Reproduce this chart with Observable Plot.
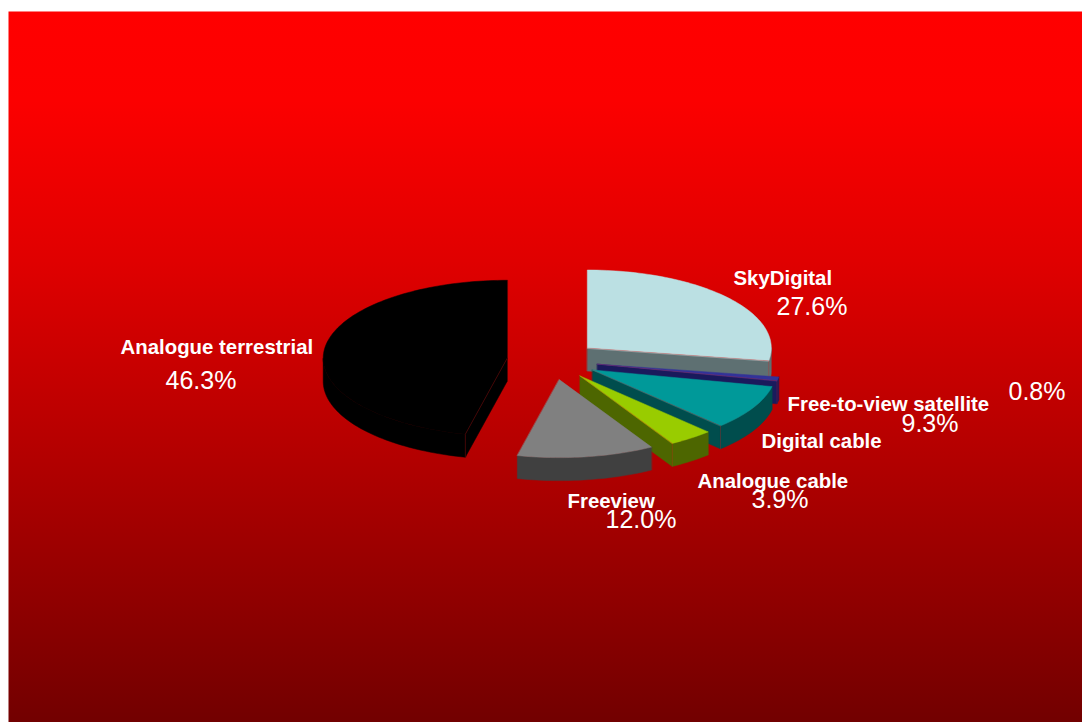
<!DOCTYPE html>
<html>
<head>
<meta charset="utf-8">
<style>
  html, body { margin: 0; padding: 0; background: #fff; }
  svg { display: block; }
</style>
<script src="https://cdn.jsdelivr.net/npm/d3@7"></script>
<script src="https://cdn.jsdelivr.net/npm/@observablehq/plot@0.6"></script>
</head>
<body>
<div id="chart"></div>
<script>
// Share of households by television platform, in clockwise order from 12 o'clock.
const platforms = ["SkyDigital", "Free-to-view satellite", "Digital cable", "Analogue cable", "Freeview", "Analogue terrestrial"];
const shares = [27.6, 0.8, 9.3, 3.9, 12.0, 46.3];
const topColors = ["#BBE0E3", "#333399", "#009999", "#99CC00", "#808080", "#000000"];
const sideColors = ["#5E7072", "#1A1A5C", "#004D4D", "#4D6600", "#404040", "#000000"];

// Label anchors, in page pixels: name x, name baseline, percent x, percent baseline.
const labelAnchors = [
  [733, 284, 776, 314],
  [787, 410, 1008, 399],
  [761, 447, 901, 431],
  [697, 487, 751, 507],
  [567, 507, 605, 527],
  [120, 353, 165, 388]
];

// Background ramp: page y of each stop and its red level.
const rampY = [11, 100, 260, 460, 722];
const rampRed = [255, 252, 224, 178, 114];

// Tilted pie, in page pixels; the scales below work in units of the ellipse radii.
const W = 1082, H = 722, left = 8, top_ = 11;
const cx = 552, cy = 360, rx = 184, ry = 78, depth = 23 / ry, explode = 45.6 / rx;

const px = (x) => (x - cx) / rx;
const py = (y) => (cy - y) / ry;
const deg = Math.PI / 180;

// Ellipse point for a clockwise angle measured from 12 o'clock.
const rim = (c, a) => ({x: c.x + Math.sin(a), y: c.y + Math.cos(a)});
const arc = (c, a0, a1) => {
  const n = Math.max(1, Math.ceil(Math.abs(a1 - a0) / (1.5 * deg)));
  return d3.range(n + 1).map((i) => rim(c, a0 + ((a1 - a0) * i) / n));
};

const total = d3.sum(shares);
let running = 0;
const slices = platforms.map((name, i) => {
  const start = (running / total) * 2 * Math.PI;
  running += shares[i];
  const end = (running / total) * 2 * Math.PI;
  const mid = (start + end) / 2;
  const apex = {x: explode * Math.sin(mid), y: explode * Math.cos(mid)};
  return {name, share: shares[i], start, end, apex, top: topColors[i], side: sideColors[i], anchor: labelAnchors[i]};
});

const lowered = (p) => ({x: p.x, y: p.y - depth});

// Extruded wall between a run of top-face points and the same run lowered by the depth.
const wall = (pts) => [...pts, ...pts.slice().reverse().map(lowered)];

function sliceMarksFor(s) {
  const {apex, start, end} = s;
  const walls = [];
  const seams = [];
  // Radial walls that face the viewer, with the hairline along their upper and outer edges.
  for (const [angle, visible] of [[start, Math.sin(start) < -1e-6], [end, Math.sin(end) > 1e-6]]) {
    if (!visible) continue;
    const outer = rim(apex, angle);
    walls.push(wall([apex, outer]));
    seams.push([apex, outer, lowered(outer)]);
  }
  // Outer wall on the near half of the ellipse.
  const a0 = Math.max(start, Math.PI / 2), a1 = Math.min(end, 1.5 * Math.PI);
  if (a1 > a0) walls.push(wall(arc(apex, a0, a1)));

  const closed = (pts, fill) => Plot.line(pts, {
    x: "x", y: "y", curve: "linear-closed", fill, stroke: fill, strokeWidth: 0.5
  });
  return [
    ...walls.map((pts) => closed(pts, s.side)),
    closed([apex, ...arc(apex, start, end)], s.top),
    ...seams.map((pts) => Plot.line(pts, {x: "x", y: "y", stroke: "#ff2020", strokeOpacity: 0.3, strokeWidth: 0.75}))
  ];
}

// Painted back to front: the large slice, then clockwise from 12 o'clock.
const paintOrder = [5, 0, 1, 2, 3, 4];
const sliceMarks = paintOrder.flatMap((i) => sliceMarksFor(slices[i]));

// Vertical background gradient used by the frame.
const gradient = () => {
  const defs = d3.create("svg:defs");
  const g = defs.append("linearGradient").attr("id", "bg").attr("x1", 0).attr("y1", 0).attr("x2", 0).attr("y2", 1);
  rampY.forEach((y, i) => {
    g.append("stop")
      .attr("offset", (y - top_) / (H - top_))
      .attr("stop-color", `rgb(${rampRed[i]},0,0)`);
  });
  return defs.node();
};

const fmt = (v) => d3.format(".1f")(v) + "%";
const font = "'Liberation Sans', Arial, sans-serif";

const chart = Plot.plot({
  width: W, height: H,
  marginLeft: left, marginTop: top_, marginRight: 0, marginBottom: 0,
  x: {domain: [px(left), px(W)], axis: null},
  y: {domain: [py(H), py(top_)], axis: null},
  style: {background: "#fff", fontFamily: font},
  marks: [
    gradient,
    Plot.frame({fill: "url(#bg)", stroke: "none"}),
    ...sliceMarks,
    Plot.text(slices, {
      x: (d) => px(d.anchor[0]), y: (d) => py(d.anchor[1]), text: "name",
      textAnchor: "start", lineAnchor: "bottom",
      fill: "#fff", fontSize: 20.4, fontWeight: "bold", fontFamily: font
    }),
    Plot.text(slices, {
      x: (d) => px(d.anchor[2]), y: (d) => py(d.anchor[3]), text: (d) => fmt(d.share),
      textAnchor: "start", lineAnchor: "bottom",
      fill: "#fff", fontSize: 25, fontFamily: font
    })
  ]
});
document.getElementById("chart").append(chart);
</script>
</body>
</html>
